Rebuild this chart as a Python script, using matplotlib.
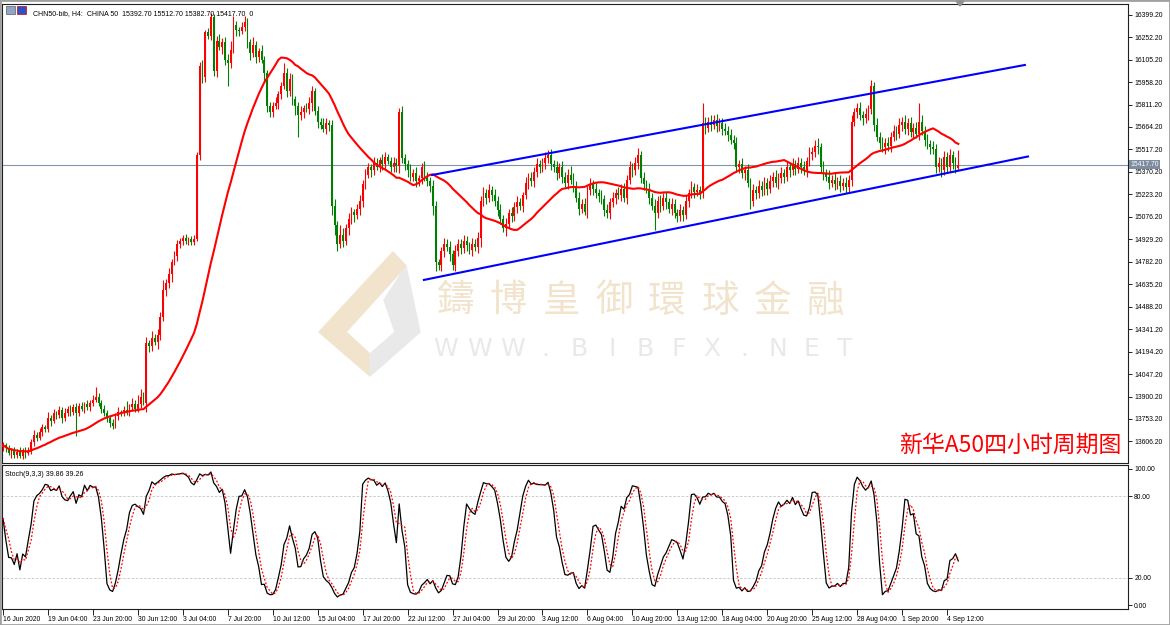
import numpy as np
import matplotlib.pyplot as plt
from matplotlib.patches import Polygon, Rectangle
from matplotlib.transforms import blended_transform_factory

plt.rcParams['font.family'] = ['Liberation Sans', 'DejaVu Sans']

# H4 closes, one row per 16 bars (one x label step)
closes = [
    13580, 13560, 13530, 13550, 13520, 13540, 13510, 13550, 13530, 13545, 13600, 13650, 13630, 13670, 13700, 13690,
    13760, 13740, 13790, 13780, 13810, 13760, 13790, 13820, 13800, 13830, 13790, 13840, 13820, 13850, 13830, 13860,
    13880, 13900, 13860, 13820, 13790, 13760, 13730, 13710, 13770, 13800, 13790, 13810, 13800, 13830, 13850, 13820,
    13850, 13900, 13860, 14250, 14230, 14280, 14260, 14300, 14420, 14600, 14640, 14700, 14780, 14820, 14900, 14920,
    14940, 14920, 14930, 14910, 14930, 15480, 16060, 15990, 16285, 16260, 16385, 16030, 16230, 16190, 16220, 16100,
    16080, 16170, 16330, 16300, 16290, 16320, 16350, 16220, 16150, 16200, 16120, 16160, 16100, 16020, 15800, 15760,
    15800, 15820, 15880, 15930, 16020, 15900, 15980, 15850, 15800, 15740, 15760, 15790, 15780, 15820, 15900, 15770,
    15700, 15680, 15650, 15690, 15680, 15150, 15020, 14900, 14960, 14920, 15000, 15060, 15110, 15090, 15130, 15180,
    15290, 15350, 15400, 15380, 15430, 15400, 15450, 15420, 15470, 15440, 15400, 15430, 15410, 15760, 15460, 15420,
    15380, 15340, 15360, 15310, 15330, 15400, 15340, 15310, 15280, 15150, 14780, 14760, 14850, 14900, 14880, 14830,
    14760, 14850, 14900, 14870, 14920, 14890, 14860, 14900, 14880, 14940, 15180, 15230, 15200, 15250, 15220, 15180,
    15120, 15060, 15000, 15030, 15100, 15080, 15140, 15170, 15150, 15220, 15300, 15330, 15310, 15370, 15420, 15400,
    15430, 15460, 15480, 15420, 15400, 15360, 15400, 15340, 15300, 15350, 15320, 15280, 15200, 15130, 15160, 15110,
    15250, 15290, 15260, 15230, 15210, 15190, 15120, 15100, 15170, 15200, 15230, 15220, 15260, 15200, 15320, 15400,
    15380, 15430, 15480, 15330, 15290, 15260, 15200, 15150, 15100, 15180, 15150, 15200, 15170, 15130, 15160, 15100,
    15080, 15120, 15090, 15180, 15230, 15270, 15240, 15250, 15230, 15690, 15660, 15700, 15680, 15710, 15670, 15690,
    15650, 15640, 15610, 15580, 15560, 15400, 15420, 15360, 15380, 15300, 15180, 15250, 15230, 15280, 15250, 15300,
    15260, 15310, 15340, 15300, 15330, 15360, 15340, 15400, 15380, 15420, 15390, 15430, 15400, 15380, 15440, 15490,
    15500, 15540, 15530, 15400, 15360, 15340, 15300, 15320, 15290, 15310, 15280, 15300, 15270, 15320, 15700, 15760,
    15790, 15740, 15720, 15750, 15780, 15930, 15680, 15600, 15560, 15530, 15560, 15540, 15600, 15640, 15620, 15680,
    15700, 15650, 15690, 15630, 15660, 15620, 15700, 15640, 15580, 15550, 15530, 15520, 15400, 15430, 15380, 15470,
    15400, 15480, 15430, 15392.7, 15417.7,
]
first_open = 13570

upper_wick = [
    20, 15, 25, 10, 20, 15, 30, 15, 20, 25, 20, 30, 15, 25, 20, 15,
    40, 20, 30, 15, 25, 20, 35, 15, 25, 20, 30, 20, 25, 15, 30, 20,
    30, 60, 20, 15, 25, 20, 15, 25, 20, 30, 15, 25, 60, 20, 40, 25,
    60, 50, 30, 40, 20, 50, 30, 40, 30, 60, 30, 40, 20, 30, 25, 20,
    20, 25, 15, 20, 25, 20, 30, 40, 15, 30, 25, 20, 30, 40, 25, 30,
    40, 60, 60, 30, 20, 30, 40, 30, 20, 50, 30, 20, 40, 30, 20, 30,
    30, 40, 20, 30, 60, 30, 40, 30, 20, 30, 40, 20, 30, 40, 30, 20,
    30, 20, 40, 30, 20, 30, 40, 30, 60, 40, 30, 40, 30, 20, 30, 40,
    30, 40, 30, 20, 40, 30, 20, 40, 30, 20, 30, 40, 30, 30, 40, 30,
    30, 40, 30, 40, 20, 30, 40, 30, 30, 40, 30, 20, 30, 40, 30, 40,
    30, 40, 30, 30, 40, 30, 20, 40, 30, 40, 30, 40, 30, 40, 30, 40,
    30, 40, 30, 40, 30, 40, 30, 40, 30, 20, 40, 30, 40, 30, 40, 30,
    30, 40, 34, 40, 30, 40, 30, 40, 30, 40, 60, 40, 30, 40, 30, 40,
    30, 40, 30, 40, 30, 40, 30, 40, 30, 40, 30, 40, 30, 40, 30, 40,
    30, 40, 45, 30, 40, 30, 40, 30, 40, 30, 40, 30, 40, 30, 40, 30,
    30, 40, 30, 40, 30, 40, 30, 40, 30, 130, 40, 30, 40, 30, 40, 30,
    30, 40, 30, 40, 30, 40, 30, 40, 30, 40, 30, 40, 30, 40, 30, 40,
    30, 40, 30, 40, 30, 40, 30, 40, 30, 40, 30, 40, 30, 40, 30, 40,
    30, 40, 50, 30, 40, 30, 40, 30, 40, 30, 40, 30, 40, 30, 40, 30,
    30, 40, 30, 40, 30, 40, 30, 40, 30, 40, 30, 40, 30, 40, 30, 40,
    30, 40, 30, 40, 30, 40, 120, 40, 30, 40, 30, 40, 30, 40, 30, 40,
    30, 40, 30, 40, 95,
]
lower_wick = [
    25, 20, 15, 30, 20, 25, 15, 20, 30, 15, 20, 25, 20, 15, 30, 20,
    20, 30, 15, 25, 20, 30, 20, 15, 25, 20, 150, 20, 15, 30, 20, 25,
    20, 15, 25, 30, 20, 25, 30, 20, 15, 25, 20, 15, 20, 25, 15, 20,
    20, 25, 15, 60, 40, 30, 25, 50, 30, 25, 40, 30, 50, 20, 30, 25,
    30, 20, 25, 15, 20, 10, 30, 40, 30, 20, 25, 30, 40, 20, 50, 30,
    150, 30, 20, 40, 30, 20, 30, 40, 50, 30, 40, 30, 20, 60, 40, 30,
    30, 20, 40, 30, 20, 40, 30, 40, 60, 140, 30, 40, 20, 30, 50, 30,
    40, 30, 20, 30, 40, 60, 60, 50, 30, 40, 30, 40, 30, 50, 30, 40,
    40, 30, 20, 40, 30, 20, 30, 40, 30, 20, 30, 30, 40, 50, 30, 40,
    40, 30, 30, 40, 30, 40, 30, 30, 40, 60, 60, 30, 40, 40, 30, 40,
    30, 40, 30, 40, 30, 40, 30, 40, 30, 40, 60, 30, 40, 30, 40, 30,
    40, 30, 25, 50, 30, 40, 30, 40, 30, 40, 30, 40, 30, 40, 30, 40,
    30, 40, 30, 40, 30, 40, 30, 40, 30, 40, 30, 40, 30, 40, 30, 20,
    40, 30, 40, 30, 40, 30, 40, 30, 40, 30, 40, 30, 40, 30, 40, 30,
    40, 30, 40, 30, 40, 30, 40, 30, 110, 30, 40, 30, 40, 30, 40, 30,
    40, 30, 40, 30, 40, 30, 40, 30, 40, 30, 40, 30, 40, 30, 40, 30,
    40, 30, 40, 30, 40, 30, 40, 30, 40, 30, 50, 30, 40, 30, 40, 30,
    40, 30, 40, 30, 40, 30, 40, 30, 40, 30, 40, 30, 40, 30, 40, 30,
    40, 30, 40, 30, 40, 30, 40, 30, 40, 30, 40, 30, 40, 30, 40, 30,
    40, 30, 40, 30, 40, 30, 40, 30, 40, 30, 40, 30, 40, 30, 40, 30,
    40, 30, 40, 30, 40, 30, 40, 30, 40, 30, 40, 30, 40, 30, 40, 30,
    40, 30, 40, 30, 10,
]

x_labels = ['16 Jun 2020', '19 Jun 04:00', '23 Jun 20:00', '30 Jun 12:00', '3 Jul 04:00',
            '7 Jul 20:00', '10 Jul 12:00', '15 Jul 04:00', '17 Jul 20:00', '22 Jul 12:00',
            '27 Jul 04:00', '29 Jul 20:00', '3 Aug 12:00', '6 Aug 04:00', '10 Aug 20:00',
            '13 Aug 12:00', '18 Aug 04:00', '20 Aug 20:00', '25 Aug 12:00', '28 Aug 04:00',
            '1 Sep 20:00', '4 Sep 12:00']
bars_per_label = 16

# channel trend lines: (bar, price) at both ends
chan_up_bars, chan_up_prices = [152.7, 363.7], [15350, 16070]
chan_lo_bars, chan_lo_prices = [149.8, 364.8], [14663, 15471]

ma_period = 30
stoch_k, stoch_d, stoch_slow = 9, 3, 3
stoch_last = (39.86, 39.26)

c = np.array(closes, dtype=float)
o = np.concatenate([[first_open], c[:-1]])
h = np.maximum(o, c) + np.array(upper_wick)
l = np.minimum(o, c) - np.array(lower_wick)
n = len(c)
idx = np.arange(n)


def sma(v, p):
    return np.array([v[max(0, i - p + 1):i + 1].mean() for i in range(len(v))])


def stochastic(h, l, c, k, d, slow):
    ll = np.array([l[max(0, i - k + 1):i + 1].min() for i in range(len(c))])
    hh = np.array([h[max(0, i - k + 1):i + 1].max() for i in range(len(c))])
    num = c - ll
    den = hh - ll
    main = np.array([100 * num[max(0, i - slow + 1):i + 1].sum() /
                     max(den[max(0, i - slow + 1):i + 1].sum(), 1e-9) for i in range(len(c))])
    return main, sma(main, d)


W, H = 1170, 625
fig = plt.figure(figsize=(W / 100, H / 100), dpi=100)
fig.patch.set_facecolor('white')


def fx(px):
    return px / W


def fy(py):
    return 1 - py / H


ax = fig.add_axes([fx(2), fy(463), fx(1126), 459 / H])
ax2 = fig.add_axes([fx(2), fy(609), fx(1126), 144 / H])
for a in (ax, ax2):
    a.patch.set_alpha(0)
    for s in a.spines.values():
        s.set_linewidth(0.8)
        s.set_color('#202020')

# watermark (behind the axes)
beige, grey = '#f2e3cc', '#e9e9e9'
fig.add_artist(Polygon([(fx(393), fy(252)), (fx(406), fy(266)), (fx(346), fy(332)), (fx(370), fy(354)),
                        (fx(370), fy(376)), (fx(319), fy(332))], closed=True, color=beige, zorder=-2))
fig.add_artist(Polygon([(fx(406), fy(266)), (fx(420), fy(332)), (fx(370), fy(376)), (fx(370), fy(354)),
                        (fx(395), fy(332)), (fx(384), fy(300))], closed=True, color=grey, zorder=-2))
for k, ch in enumerate('鑄博皇御環球金融'):
    fig.text(fx(455 + 53 * k), fy(301), ch, ha='center', va='center', fontsize=27, color=beige,
             family=['Noto Sans CJK TC', 'DejaVu Sans'], zorder=-2)
for k, ch in enumerate('WWW.BIBFX.NET'):
    fig.text(fx(446 + 33.2 * k), fy(349), ch, ha='center', va='center', fontsize=18, color=grey,
             family=['DejaVu Sans'], zorder=-2)

# candles: up red, down green
col = np.where(c >= o, '#ff0000', '#008000')
ax.vlines(idx, l, h, colors=col, lw=0.8, zorder=3)
ax.bar(idx, np.maximum(np.abs(c - o), 5), bottom=np.minimum(o, c), width=0.62,
       color=col, lw=0, zorder=3)

ax.plot(idx, sma(c, ma_period), color='#ff0000', lw=1.5, zorder=4)
ax.plot(chan_up_bars, chan_up_prices, color='#0000ff', lw=1.5, zorder=5)
ax.plot(chan_lo_bars, chan_lo_prices, color='#0000ff', lw=1.5, zorder=5)
ax.axhline(c[-1], color='#8494a8', lw=0.8, zorder=2)

ax.set_xlim(-0.36, 400.4)
ax.set_ylim(13465, 16469)
ax.set_xticks([])
ax.yaxis.tick_right()
ax.set_yticks([13606.2 + 147 * k for k in range(20)])
ax.yaxis.set_major_formatter(plt.FormatStrFormatter('%.2f'))
ax.tick_params(axis='y', length=3, width=0.6, labelsize=4.9, pad=1.5)

tr = blended_transform_factory(ax.transAxes, ax.transData)
ax.text(1.0018, c[-1], '%.2f' % c[-1], transform=tr, fontsize=4.9, color='white', va='center',
        ha='left', bbox=dict(boxstyle='square,pad=0.2', fc='#7d8ca0', ec='none'), zorder=6)

ax.text(0.0275, 0.987, 'CHN50-bib, H4:  CHINA 50  %.2f %.2f %.2f %.2f  0' % (o[-1], h[-1], l[-1], c[-1]),
        transform=ax.transAxes, fontsize=5, va='top', ha='left')
fig.add_artist(Rectangle((fx(6), fy(14)), fx(9), 8 / H, fc='#8fa6c8', ec='#404040', lw=0.4))
fig.add_artist(Rectangle((fx(17), fy(14)), fx(9), 8 / H, fc='#3050c0', ec='#c02020', lw=0.6))

fig.text(fx(1121), fy(445), '新华A50四小时周期图', ha='right', va='center', fontsize=16.5,
         color='#ff0000', family=['Noto Sans CJK SC', 'DejaVu Sans'])

# stochastic panel
k_line, d_line = stochastic(h, l, c, stoch_k, stoch_d, stoch_slow)
ax2.plot(idx, k_line, color='#000000', lw=0.9, zorder=3)
ax2.plot(idx, d_line, color='#ff0000', lw=0.9, ls=(0, (1.5, 1.5)), zorder=3)
for lv in (20, 80):
    ax2.axhline(lv, color='#c4c4c4', lw=0.6, ls=(0, (3, 2)), zorder=1)
ax2.set_xlim(-0.36, 400.4)
ax2.set_ylim(-2.94, 102.94)
ax2.yaxis.tick_right()
ax2.set_yticks([0, 20, 80, 100])
ax2.yaxis.set_major_formatter(plt.FormatStrFormatter('%.2f'))
ax2.tick_params(axis='y', length=3, width=0.6, labelsize=4.9, pad=1.5)
ax2.set_xticks([bars_per_label * k for k in range(len(x_labels))])
ax2.set_xticklabels(x_labels, ha='left')
ax2.tick_params(axis='x', length=4, width=0.6, labelsize=4.9, pad=1)
ax2.text(0.003, 0.955, 'Stoch(%d,%d,%d) %.2f %.2f' % (stoch_k, stoch_d, stoch_slow, *stoch_last),
         transform=ax2.transAxes, fontsize=5, va='top', ha='left')

# window frame
fig.add_artist(Rectangle((0, 0), 1, 1, fill=False, ec='#a0a0a0', lw=2, transform=fig.transFigure))
fig.add_artist(Polygon([(fx(956), fy(1)), (fx(964), fy(1)), (fx(960), fy(6))], closed=True,
                       color='#909090'))

fig.savefig('out.png', dpi=100)
